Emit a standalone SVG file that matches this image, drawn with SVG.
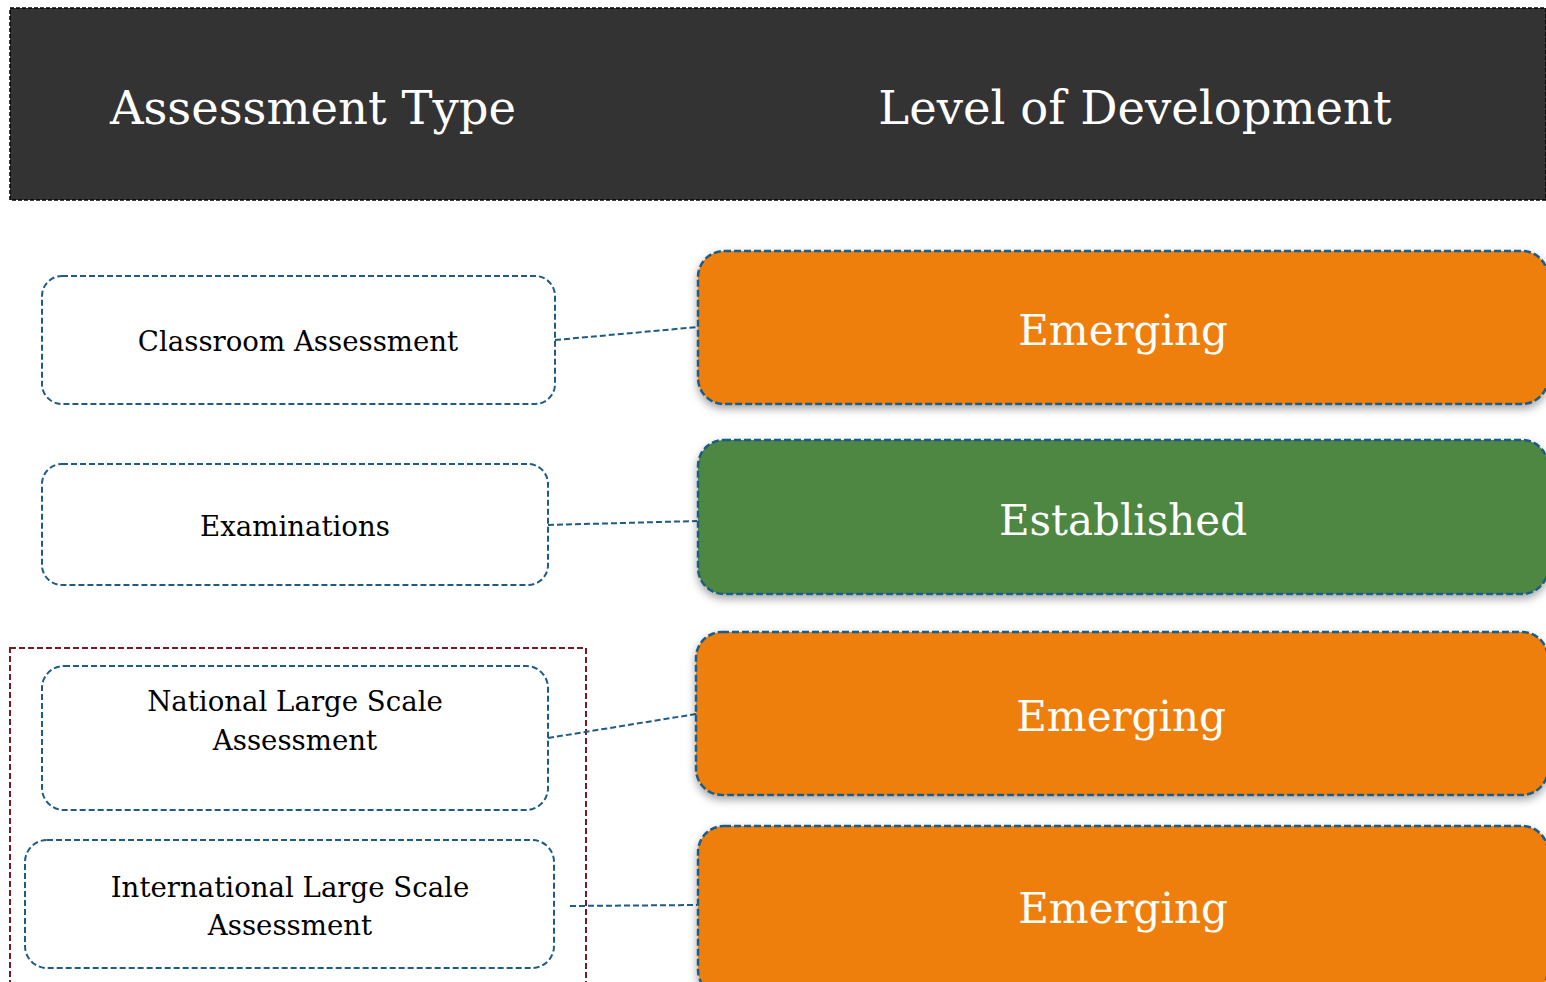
<svg xmlns="http://www.w3.org/2000/svg" width="1546" height="982" viewBox="0 0 1546 982">
<defs>
<style>
.hdr{fill:#333333;stroke:#000;stroke-width:1.5;stroke-dasharray:4 2}
.ht{font-family:"DejaVu Serif","Liberation Serif",serif;font-size:46.5px;fill:#fff;text-anchor:middle}
.lbox{fill:#fff;stroke:#1f5c85;stroke-width:2;stroke-dasharray:6 3}
.lt{font-family:"DejaVu Serif","Liberation Serif",serif;font-size:27.6px;fill:#000;text-anchor:middle}
.rbox{stroke:#1f5c85;stroke-width:2.5;stroke-dasharray:7 3;filter:url(#sh)}
.or{fill:#ef7f0a}
.gr{fill:#4e8742}
.rt{font-family:"DejaVu Serif","Liberation Serif",serif;font-size:42px;fill:#fff;text-anchor:middle}
.con{stroke:#1f5c85;stroke-width:2;stroke-dasharray:6 3;fill:none}
.grp{fill:none;stroke:#7a1a24;stroke-width:2;stroke-dasharray:6 3}
</style>
<filter id="sh" x="-5%" y="-10%" width="110%" height="130%">
<feDropShadow dx="0" dy="4" stdDeviation="4" flood-color="#000" flood-opacity="0.35"/>
</filter>
</defs>
<rect width="1546" height="982" fill="#fff"/>
<g id="header">
<rect class="hdr" x="10" y="8" width="1536" height="192"/>
<text class="ht" x="313" y="124">Assessment Type</text>
<text class="ht" x="1135" y="124">Level of Development</text>
</g>
<g id="group-large-scale">
<rect class="grp" x="10" y="648" width="576" height="340"/>
</g>
<g id="connectors">
<line class="con" x1="555" y1="340" x2="698" y2="327"/>
<line class="con" x1="548" y1="525" x2="697" y2="521"/>
<line class="con" x1="548" y1="738" x2="696" y2="714"/>
<line class="con" x1="570" y1="906" x2="697" y2="905"/>
</g>
<g id="classroom">
<rect class="lbox" x="42" y="276" width="513" height="128" rx="20"/>
<text class="lt" x="298" y="351">Classroom Assessment</text>
</g>
<g id="examinations">
<rect class="lbox" x="42" y="464" width="506" height="121" rx="20"/>
<text class="lt" x="295" y="536">Examinations</text>
</g>
<g id="national">
<rect class="lbox" x="42" y="666" width="506" height="144" rx="22"/>
<text class="lt" x="295" y="711">National Large Scale</text>
<text class="lt" x="295" y="750">Assessment</text>
</g>
<g id="international">
<rect class="lbox" x="25" y="840" width="529" height="128" rx="22"/>
<text class="lt" x="290" y="897">International Large Scale</text>
<text class="lt" x="290" y="935">Assessment</text>
</g>
<g id="emerging-1">
<rect class="rbox or" x="698" y="251" width="850" height="153" rx="26"/>
<text class="rt" x="1123" y="345">Emerging</text>
</g>
<g id="established">
<rect class="rbox gr" x="698" y="440" width="850" height="154" rx="26"/>
<text class="rt" x="1123" y="535">Established</text>
</g>
<g id="emerging-2">
<rect class="rbox or" x="696" y="632" width="852" height="163" rx="26"/>
<text class="rt" x="1121" y="731">Emerging</text>
</g>
<g id="emerging-3">
<rect class="rbox or" x="698" y="826" width="850" height="170" rx="26"/>
<text class="rt" x="1123" y="923">Emerging</text>
</g>
</svg>
